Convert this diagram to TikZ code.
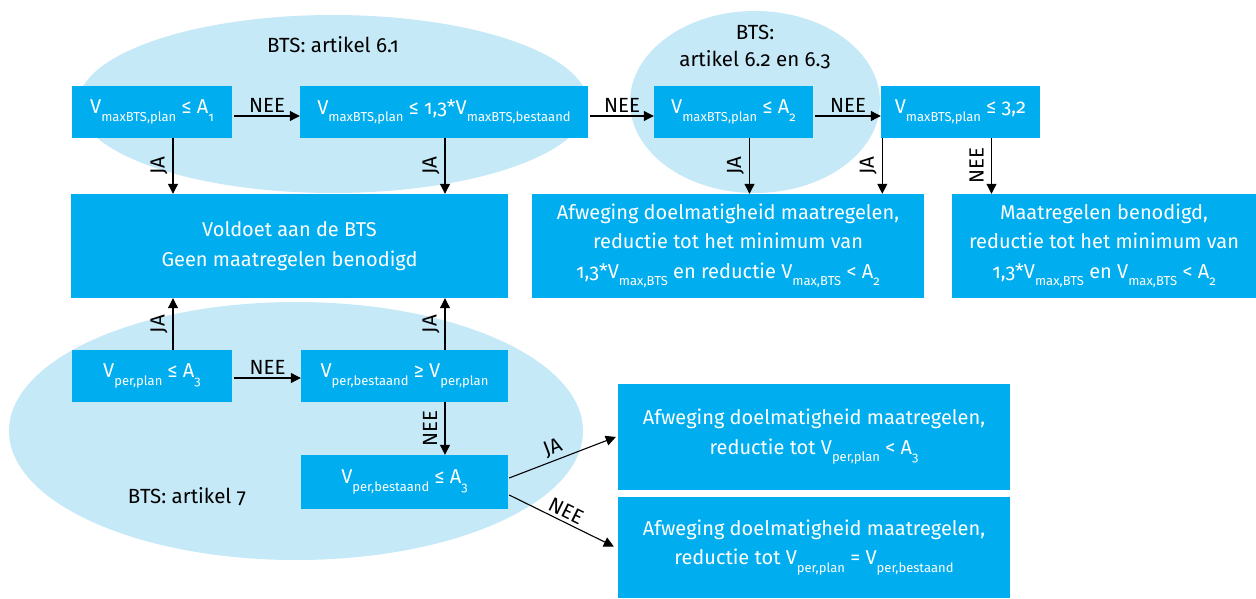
\documentclass[tikz,border=0pt]{standalone}
\usepackage{fontspec}
\setmainfont{Fira Sans}[Numbers=OldStyle]
\usetikzlibrary{arrows.meta,shapes.geometric}
\definecolor{boxblue}{HTML}{00AEEF}
\definecolor{ellblue}{HTML}{C6E9F8}
\newcommand\sbs[1]{\raisebox{-7.5pt}{\fontsize{13}{14}\selectfont #1}}
\begin{document}
\begin{tikzpicture}[x=1pt,y=-1pt,
  box/.style={fill=boxblue,text=white,inner sep=0pt,align=center,font=\fontsize{20}{29.5}\selectfont},
  ell/.style={ellipse,fill=ellblue,inner sep=0pt},
  arr/.style={line width=1.1pt,-{Triangle[length=10pt,width=10pt]}},
  lab/.style={font=\fontsize{20.5}{22}\selectfont,inner sep=1pt},
  etext/.style={font=\fontsize{20.5}{27}\selectfont,align=center,inner sep=0pt}]
\useasboundingbox (0,0) rectangle (1256,599);
\fill[white] (0,0) rectangle (1256,599);
% regions
\node[ell,minimum width=510pt,minimum height=178pt] (E1) at (333,104) {};
\node[ell,minimum width=250pt,minimum height=182pt] (E2) at (755,102) {};
\node[ell,minimum width=574pt,minimum height=258pt] (E3) at (296,431) {};
\node[etext] (T1) at (333,45) {BTS: artikel 6.1};
\node[etext] (T2) at (755,47) {BTS:\\artikel 6.2 en 6.3};
\node[etext] (T3) at (187,497) {BTS: artikel 7};
% boxes
\node[box,minimum width=160pt,minimum height=52pt] (B1) at (152,112) {V\sbs{maxBTS,plan} ≤ A\sbs{1}};
\node[box,minimum width=288pt,minimum height=52pt] (B2) at (444,112) {V\sbs{maxBTS,plan} ≤ 1,3*V\sbs{maxBTS,bestaand}};
\node[box,minimum width=159pt,minimum height=52pt] (B3) at (733.5,112) {V\sbs{maxBTS,plan} ≤ A\sbs{2}};
\node[box,minimum width=159pt,minimum height=52pt] (B4) at (960.5,112) {V\sbs{maxBTS,plan} ≤ 3,2};
\node[box,minimum width=437pt,minimum height=104pt] (V) at (289.5,246) {Voldoet aan de BTS\\Geen maatregelen benodigd};
\node[box,minimum width=392pt,minimum height=104pt] (AF) at (728,246) {Afweging doelmatigheid maatregelen,\\reductie tot het minimum van\\1,3*V\sbs{max,BTS} en reductie V\sbs{max,BTS} < A\sbs{2}};
\node[box,minimum width=304pt,minimum height=104pt] (MB) at (1104,246) {Maatregelen benodigd,\\reductie tot het minimum van\\1,3*V\sbs{max,BTS} en V\sbs{max,BTS} < A\sbs{2}};
\node[box,minimum width=160pt,minimum height=52pt] (B5) at (152,376) {V\sbs{per,plan} ≤ A\sbs{3}};
\node[box,minimum width=207pt,minimum height=52pt] (B6) at (404.5,376) {V\sbs{per,bestaand} ≥ V\sbs{per,plan}};
\node[box,minimum width=207pt,minimum height=54pt] (B7) at (404.5,482) {V\sbs{per,bestaand} ≤ A\sbs{3}};
\node[box,minimum width=392pt,minimum height=106pt] (R1) at (814,437) {Afweging doelmatigheid maatregelen,\\reductie tot V\sbs{per,plan} < A\sbs{3}};
\node[box,minimum width=392pt,minimum height=101pt] (R2) at (814,547.5) {Afweging doelmatigheid maatregelen,\\reductie tot V\sbs{per,plan} = V\sbs{per,bestaand}};
% horizontal arrows
\draw[arr] ([xshift=2pt,yshift=-4pt]B1.east) -- node[lab,above=2pt]{NEE} ([yshift=-4pt]B2.west);
\draw[arr] ([xshift=2pt,yshift=-4pt]B2.east) -- node[lab,above=2pt]{NEE} ([yshift=-4pt]B3.west);
\draw[arr] ([xshift=2pt,yshift=-4pt]B3.east) -- node[lab,above=2pt]{NEE} ([yshift=-4pt]B4.west);
\draw[arr] ([xshift=2pt,yshift=-2pt]B5.east) -- node[lab,above=2pt]{NEE} ([yshift=-2pt]B6.west);
% vertical arrows
\draw[arr] ([xshift=21pt]B1.south) -- node[lab,xshift=-14pt,rotate=90]{JA} ([xshift=21pt]B1.south |- V.north);
\draw[arr] ([xshift=1pt]B2.south) -- node[lab,xshift=-14pt,rotate=90]{JA} ([xshift=1pt]B2.south |- V.north);
\draw[arr] ([xshift=16pt]B3.south) -- node[lab,xshift=-14pt,rotate=90]{JA} ([xshift=16pt]B3.south |- AF.north);
\draw[arr] ([xshift=1.5pt]B4.south west) -- node[lab,xshift=-14pt,rotate=90]{JA} ([xshift=1.5pt]B4.south west |- AF.north);
\draw[arr] ([xshift=31pt]B4.south) -- node[lab,xshift=-15pt,rotate=90]{NEE} ([xshift=31pt]B4.south |- MB.north);
\draw[arr] ([xshift=21pt]B5.north) -- node[lab,xshift=-14pt,rotate=90]{JA} ([xshift=21pt]B5.north |- V.south);
\draw[arr] ([xshift=40.5pt]B6.north) -- node[lab,xshift=-14pt,rotate=90]{JA} ([xshift=40.5pt]B6.north |- V.south);
\draw[arr] ([xshift=40.5pt]B6.south) -- node[lab,xshift=-15pt,rotate=90]{NEE} ([xshift=40.5pt]B6.south |- B7.north);
% diagonal arrows
\draw[arr] ([xshift=1pt,yshift=4pt]B7.east) -- node[lab,sloped,above=2pt,pos=0.45]{JA} ([xshift=-2pt]R1.west);
\draw[arr] ([xshift=1pt,yshift=-13pt]B7.east) -- node[lab,sloped,above=2pt,pos=0.5]{NEE} ([xshift=-4pt,yshift=1pt]R2.west);
\end{tikzpicture}
\end{document}
